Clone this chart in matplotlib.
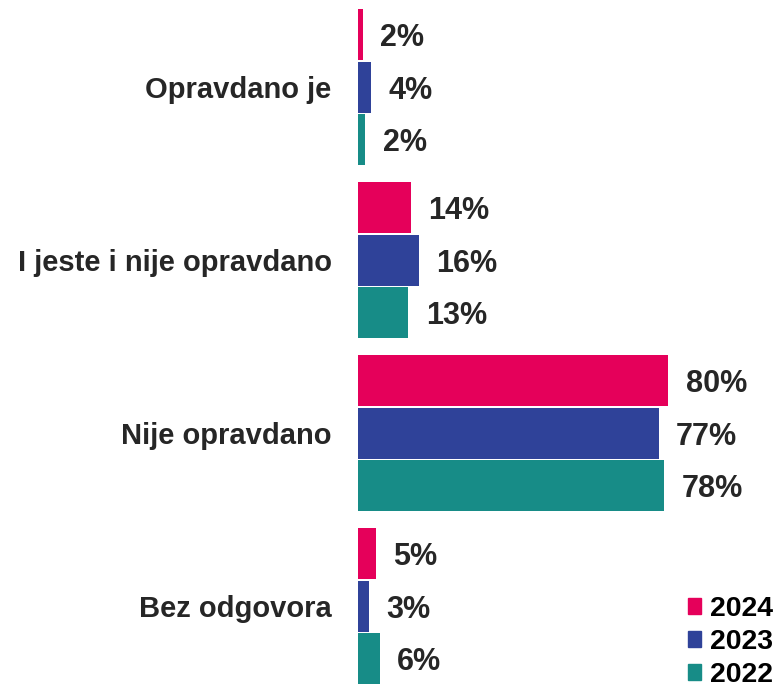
import numpy as np
import matplotlib.pyplot as plt
from matplotlib.patches import Patch

plt.rcParams['font.family'] = ['Liberation Sans', 'DejaVu Sans']

categories = ['Opravdano je', 'I jeste i nije opravdano', 'Nije opravdano', 'Bez odgovora']
years = ['2024', '2023', '2022']
colors = ['#E5005A', '#2F4299', '#178C87']

# bar lengths as measured, labels as printed
vals_2024 = [1.2, 13.6, 79.8, 4.5]
vals_2023 = [3.3, 15.7, 77.3, 2.8]
vals_2022 = [1.9, 12.9, 78.6, 5.6]
labels_2024 = ['2%', '14%', '80%', '5%']
labels_2023 = ['4%', '16%', '77%', '3%']
labels_2022 = ['2%', '13%', '78%', '6%']

series = [vals_2024, vals_2023, vals_2022]
series_labels = [labels_2024, labels_2023, labels_2022]

fig = plt.figure(figsize=(7.76, 6.85), dpi=100)
ax = fig.add_axes([358 / 776, 0, 1 - 358 / 776, 1])

y = np.arange(len(categories))
step = 0.3035
for i, (vals, labs) in enumerate(zip(series, series_labels)):
    pos = y + (i - 1) * step
    bars = ax.barh(pos, vals, height=0.293, color=colors[i], label=years[i])
    for b, lab in zip(bars, labs):
        ax.annotate(lab, (b.get_width(), b.get_y() + b.get_height() / 2),
                    xytext=(12.6, -2.5), textcoords='offset points',
                    ha='left', va='center', fontsize=22, fontweight='bold',
                    color='#262626')

ax.set_xlim(0, 107.45)
ax.set_ylim(3.4555, -0.504)
ax.set_yticks(y)
ax.set_yticklabels(categories, fontsize=21, fontweight='bold', color='#262626')
ax.tick_params(axis='y', length=0, pad=19)
ax.set_xticks([])
for s in ax.spines.values():
    s.set_visible(False)

handles = [Patch(color=c) for c in colors]
fig.legend(handles, years, loc='upper left', bbox_to_anchor=(688 / 776, 1 - 596 / 685),
           frameon=False, prop={'weight': 'bold', 'size': 20.4},
           handlelength=0.46, handleheight=0.46, handletextpad=0.3,
           labelspacing=0.25, borderpad=0, borderaxespad=0)

fig.savefig('out.png', dpi=100)
